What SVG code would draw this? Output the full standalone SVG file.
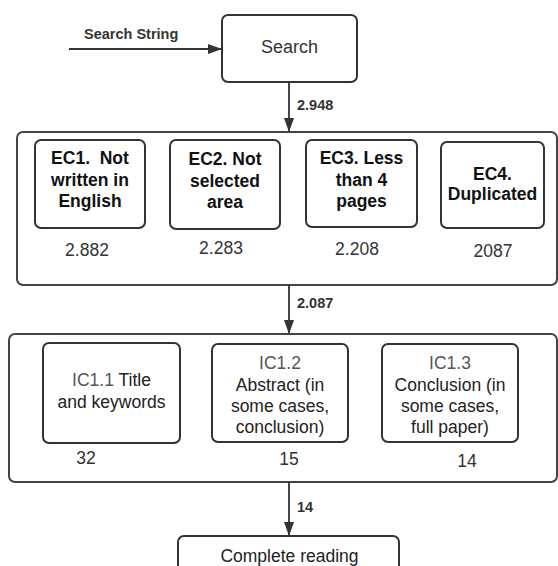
<svg xmlns="http://www.w3.org/2000/svg" width="558" height="566" viewBox="0 0 558 566">
<defs>
<marker id="ah" markerWidth="14" markerHeight="10" refX="13" refY="5" orient="auto" markerUnits="userSpaceOnUse">
<path d="M0,0 L14,5 L0,10 Z" fill="#333"/>
</marker>
</defs>
<style>
.box{fill:#fff;stroke:#333;stroke-width:2}
.cont{fill:#fff;stroke:#444;stroke-width:2}
.ec{font-family:"Liberation Sans",Arial,sans-serif;font-weight:bold;font-size:17.5px;fill:#111;text-anchor:middle}
.ic{font-family:"Liberation Sans",Arial,sans-serif;font-size:17.5px;fill:#222;text-anchor:middle}
.lbl{fill:#555}
.num{font-family:"Liberation Sans",Arial,sans-serif;font-size:17.5px;fill:#333;text-anchor:middle}
.elab{font-family:"Liberation Sans",Arial,sans-serif;font-weight:bold;font-size:14.5px;fill:#333}
.conn{stroke:#333;stroke-width:1.8;fill:none}
</style>
<rect width="558" height="566" fill="#fff"/>
<g id="ec-container">
<rect class="cont" x="17" y="132" width="540" height="153" rx="6"/>
</g>
<g id="ic-container">
<rect class="cont" x="9" y="334" width="548" height="148" rx="6"/>
</g>
<g id="search">
<rect class="box" x="222" y="15" width="135" height="67" rx="6"/>
<text class="ic" x="289.5" y="53" style="font-size:18px;fill:#333">Search</text>
</g>
<g id="ec1">
<rect class="box" x="35" y="140" width="110" height="88" rx="6"/>
<text class="ec" x="90" y="164" xml:space="preserve">EC1.  Not</text>
<text class="ec" x="90" y="186">written in</text>
<text class="ec" x="90" y="207">English</text>
<text class="num" x="87" y="256">2.882</text>
</g>
<g id="ec2">
<rect class="box" x="170" y="140" width="110" height="89" rx="6"/>
<text class="ec" x="225" y="165">EC2. Not</text>
<text class="ec" x="225" y="187">selected</text>
<text class="ec" x="225" y="208">area</text>
<text class="num" x="221" y="254">2.283</text>
</g>
<g id="ec3">
<rect class="box" x="306" y="140" width="111" height="87" rx="6"/>
<text class="ec" x="361.5" y="164">EC3. Less</text>
<text class="ec" x="361.5" y="186">than 4</text>
<text class="ec" x="361.5" y="207">pages</text>
<text class="num" x="357" y="255">2.208</text>
</g>
<g id="ec4">
<rect class="box" x="441" y="142" width="103" height="86" rx="6"/>
<text class="ec" x="492.5" y="180">EC4.</text>
<text class="ec" x="492.5" y="200">Duplicated</text>
<text class="num" x="493" y="257">2087</text>
</g>
<g id="ic11">
<rect class="box" x="43" y="343" width="137" height="100" rx="6"/>
<text class="ic" x="111.5" y="386"><tspan class="lbl">IC1.1</tspan> Title</text>
<text class="ic" x="111.5" y="408">and keywords</text>
<text class="num" x="86" y="464">32</text>
</g>
<g id="ic12">
<rect class="box" x="212" y="344" width="136" height="98" rx="6"/>
<text class="ic lbl" x="280" y="369">IC1.2</text>
<text class="ic" x="280" y="391">Abstract (in</text>
<text class="ic" x="280" y="412">some cases,</text>
<text class="ic" x="280" y="433">conclusion)</text>
<text class="num" x="289" y="465">15</text>
</g>
<g id="ic13">
<rect class="box" x="382" y="344" width="136" height="98" rx="6"/>
<text class="ic lbl" x="450" y="369">IC1.3</text>
<text class="ic" x="450" y="391">Conclusion (in</text>
<text class="ic" x="450" y="412">some cases,</text>
<text class="ic" x="450" y="433">full paper)</text>
<text class="num" x="467" y="467">14</text>
</g>
<g id="complete-reading">
<rect class="box" x="178" y="536" width="221" height="40" rx="6"/>
<text class="ic" x="289.5" y="562">Complete reading</text>
</g>
<g id="connectors">
<line class="conn" x1="69" y1="49" x2="221" y2="49" marker-end="url(#ah)"/>
<text class="elab" x="84" y="39">Search String</text>
<line class="conn" x1="289" y1="82" x2="289" y2="131" marker-end="url(#ah)"/>
<text class="elab" x="297" y="110">2.948</text>
<line class="conn" x1="289" y1="285" x2="289" y2="333" marker-end="url(#ah)"/>
<text class="elab" x="297" y="308">2.087</text>
<line class="conn" x1="289" y1="482" x2="289" y2="535" marker-end="url(#ah)"/>
<text class="elab" x="297" y="512">14</text>
</g>
</svg>
